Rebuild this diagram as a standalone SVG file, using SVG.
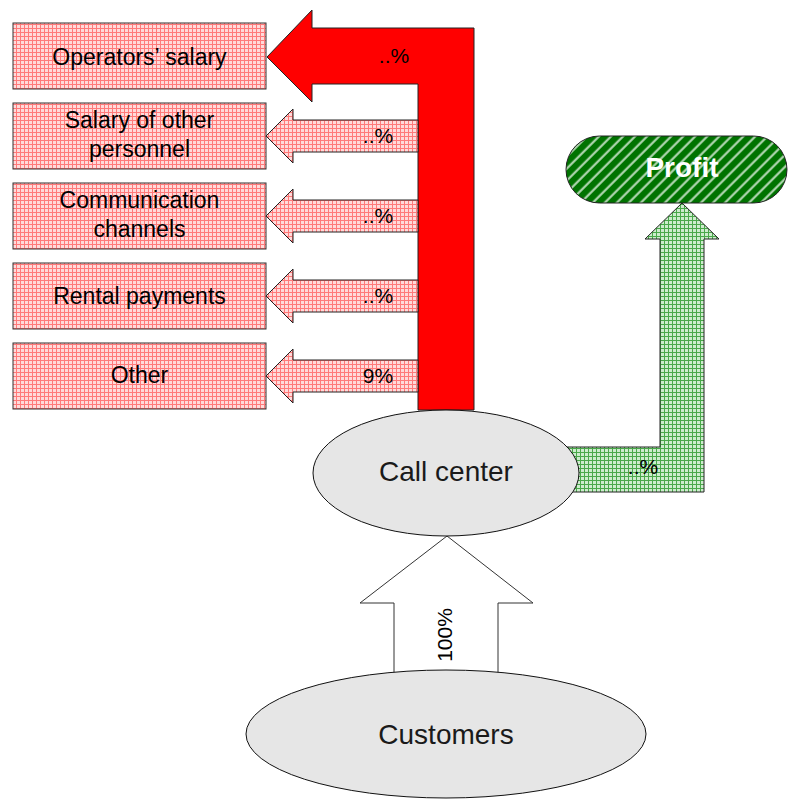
<svg xmlns="http://www.w3.org/2000/svg" width="788" height="799" viewBox="0 0 788 799">
  <defs>
    <pattern id="pinkGrid" width="4" height="4" patternUnits="userSpaceOnUse">
      <rect width="4" height="4" fill="#ffdada"/>
      <path d="M0 0.5H4M0.5 0V4" stroke="#ff7a7a" stroke-width="1"/>
    </pattern>
    <pattern id="greenGrid" width="4" height="4" patternUnits="userSpaceOnUse">
      <rect width="4" height="4" fill="#cdeccd"/>
      <path d="M0 0.5H4M0.5 0V4" stroke="#4aa84a" stroke-width="1"/>
    </pattern>
    <pattern id="greenStripes" width="8.5" height="8.5" patternUnits="userSpaceOnUse" patternTransform="rotate(45)">
      <rect width="8.5" height="8.5" fill="#007300"/>
      <line x1="1.5" y1="0" x2="1.5" y2="8.5" stroke="#e6f5e6" stroke-width="2" stroke-opacity="0.85"/>
    </pattern>
  </defs>
  <style>
    text { font-family: "Liberation Sans", Arial, sans-serif; fill: #000; }
    .box { fill: url(#pinkGrid); stroke: #333; stroke-width: 1; }
    .lbl { font-size: 23px; text-anchor: middle; }
    .pct { font-size: 21px; text-anchor: middle; }
    .ell { fill: #e6e6e6; stroke: #111; stroke-width: 1; }
    .big { font-size: 28px; text-anchor: middle; fill: #1a1a1a; }
    .pinkArrow { fill: url(#pinkGrid); stroke: #222; stroke-width: 1; }
  </style>

  <g id="connectors">
    <!-- main expense flow -->
    <polygon points="267,57 312,10 312,28 474,28 474,410 418,410 418,84 312,84 312,102" fill="#ff0000" stroke="#222" stroke-width="1"/>
    <text class="pct" x="394" y="63">..%</text>
    <!-- smaller expense flows -->
    <polygon class="pinkArrow" points="266,136 293,109 293,120 418,120 418,152 293,152 293,163"/>
    <text class="pct" x="378" y="143">..%</text>
    <polygon class="pinkArrow" points="266,216 293,189 293,200 418,200 418,232 293,232 293,243"/>
    <text class="pct" x="378" y="223">..%</text>
    <polygon class="pinkArrow" points="266,296 293,269 293,280 418,280 418,312 293,312 293,323"/>
    <text class="pct" x="378" y="303">..%</text>
    <polygon class="pinkArrow" points="266,376 293,349 293,360 418,360 418,392 293,392 293,403"/>
    <text class="pct" x="378" y="383">9%</text>
    <!-- profit flow -->
    <polygon points="682,203 719,239 704,239 704,492 560,492 560,447 660,447 660,239 645,239" fill="url(#greenGrid)" stroke="#222" stroke-width="1"/>
    <text class="pct" x="643" y="474">..%</text>
    <!-- incoming flow -->
    <polygon points="447,536 533,603 498,603 498,690 394,690 394,603 360,603" fill="#ffffff" stroke="#333" stroke-width="1"/>
    <text class="pct" transform="translate(452,635) rotate(-90)">100%</text>
  </g>

  <g id="operators-salary">
    <rect class="box" x="13" y="23" width="253" height="66"/>
    <text class="lbl" x="139.5" y="65">Operators’ salary</text>
  </g>
  <g id="other-personnel">
    <rect class="box" x="13" y="103" width="253" height="66"/>
    <text class="lbl" x="139.5" y="128">Salary of other</text>
    <text class="lbl" x="139.5" y="157">personnel</text>
  </g>
  <g id="communication">
    <rect class="box" x="13" y="183" width="253" height="66"/>
    <text class="lbl" x="139.5" y="208">Communication</text>
    <text class="lbl" x="139.5" y="237">channels</text>
  </g>
  <g id="rental">
    <rect class="box" x="13" y="263" width="253" height="66"/>
    <text class="lbl" x="139.5" y="304">Rental payments</text>
  </g>
  <g id="other">
    <rect class="box" x="13" y="343" width="253" height="66"/>
    <text class="lbl" x="139.5" y="383">Other</text>
  </g>

  <g id="profit">
    <rect x="566" y="136" width="221" height="67" rx="33.5" ry="33.5" fill="url(#greenStripes)" stroke="#222" stroke-width="1"/>
    <text x="682" y="177" font-size="28" font-weight="bold" text-anchor="middle" style="fill:#ffffff">Profit</text>
  </g>

  <g id="call-center">
    <ellipse class="ell" cx="446" cy="473" rx="133" ry="63"/>
    <text class="big" x="446" y="481">Call center</text>
  </g>

  <g id="customers">
    <ellipse class="ell" cx="446" cy="734" rx="200" ry="64"/>
    <text class="big" x="446" y="744">Customers</text>
  </g>
</svg>
